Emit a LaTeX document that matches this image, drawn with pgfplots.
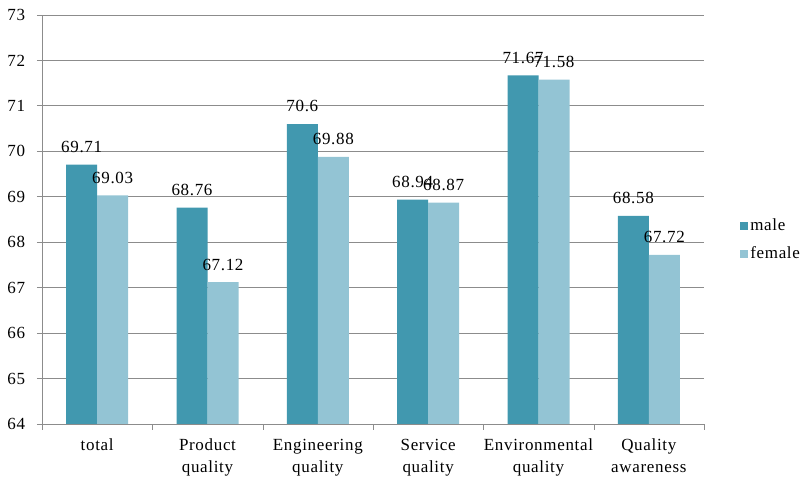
\documentclass[border=0pt]{standalone}
\usepackage{fontspec}
\setmainfont{Liberation Serif}[LetterSpace=4]
\usepackage{pgfplots}
\pgfplotsset{compat=1.18}
\definecolor{male}{HTML}{4198AF}
\definecolor{female}{HTML}{93C4D4}
\definecolor{gridc}{HTML}{8C8C8C}
\begin{document}
\fontsize{17}{22}\selectfont
\begin{tikzpicture}
\useasboundingbox (-42pt,-55pt) rectangle (762pt,424pt);
\begin{axis}[
  at={(0,0)}, anchor=south west,
  scale only axis, width=662pt, height=409pt,
  ybar=0pt, bar width=31pt,
  xmin=-0.5, xmax=5.5, ymin=64, ymax=73,
  ytick={64,...,73},
  xtick={0,...,5},
  xticklabels={total,{Product\\quality},{Engineering\\quality},{Service\\quality},{Environmental\\quality},{Quality\\awareness}},
  xticklabel style={align=center, font=\fontsize{17}{22}\selectfont, yshift=-4pt},
  yticklabel style={font=\fontsize{17}{22}\selectfont, xshift=-6pt},
  major x tick style={draw=none},
  minor xtick={-0.5,0.5,...,5.5},
  minor x tick style={draw=gridc},
  minor tick length=6pt,
  major tick length=5pt,
  tick align=outside,
  ymajorgrids, grid style={gridc, line width=0.8pt},
  axis x line*=bottom, axis y line*=left,
  axis line style={gridc, line width=0.8pt, -},
  y tick style={gridc, line width=0.8pt},
  /pgf/number format/assume math mode=true,
  nodes near coords,
  nodes near coords style={font=\fontsize{17}{22}\selectfont, yshift=6pt},
  point meta=explicit symbolic,
  legend style={at={(1.05,0.45)}, anchor=west, draw=none, fill=none,
    font=\fontsize{17}{22}\selectfont, row sep=10pt},
  legend cell align=left,
  legend image code/.code={\fill[#1] (0pt,-4pt) rectangle (8pt,4pt);},
]
\addplot[fill=male, draw=none] coordinates {(0,69.71) [69.71] (1,68.76) [68.76] (2,70.6) [70.6] (3,68.94) [68.94] (4,71.67) [71.67] (5,68.58) [68.58]};
\addplot[fill=female, draw=none] coordinates {(0,69.03) [69.03] (1,67.12) [67.12] (2,69.88) [69.88] (3,68.87) [68.87] (4,71.58) [71.58] (5,67.72) [67.72]};
\legend{male,female}
\end{axis}
\end{tikzpicture}
\end{document}
